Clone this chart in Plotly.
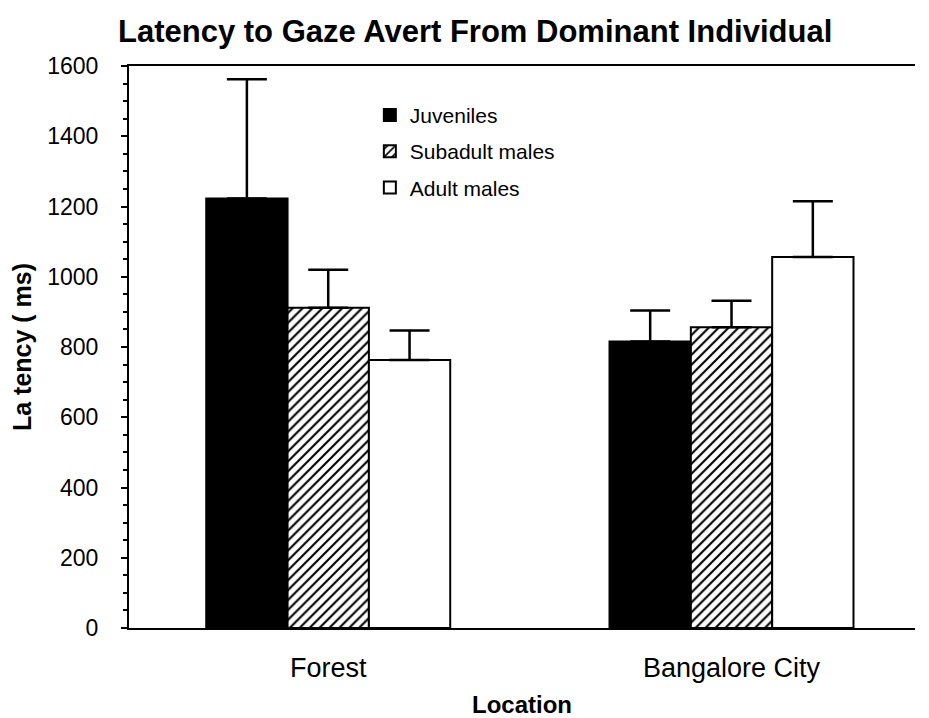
import plotly.graph_objects as go

locations = ["Forest", "Bangalore City"]
groups = ["Juveniles", "Subadult males", "Adult males"]
means = {
    "Juveniles": [1223, 816],
    "Subadult males": [912, 856],
    "Adult males": [763, 1056],
}
errors = {
    "Juveniles": [339, 88],
    "Subadult males": [108, 76],
    "Adult males": [84, 159],
}
y_ticks = [0, 200, 400, 600, 800, 1000, 1200, 1400, 1600]

styles = {
    "Juveniles": dict(color="black", pattern=dict(shape="")),
    "Subadult males": dict(color="white", pattern=dict(shape="/", fgcolor="black", bgcolor="white", size=7, solidity=0.3, fillmode="replace")),
    "Adult males": dict(color="white", pattern=dict(shape="")),
}

fig = go.Figure()
for g in groups:
    st = styles[g]
    fig.add_trace(go.Bar(
        x=locations, y=means[g], name=g, legendgroup=g,
        marker=dict(color=st["color"], line=dict(color="black", width=2), pattern=st["pattern"]),
        error_y=dict(type="data", array=errors[g], symmetric=False, arrayminus=[0, 0],
                     color="black", thickness=2.5, width=20),
    ))

font_family = "Liberation Sans, Arial, Helvetica, sans-serif"
fig.update_layout(
    width=929, height=718,
    margin=dict(l=111, r=22, t=58, b=87),
    paper_bgcolor="white", plot_bgcolor="white",
    barmode="group", bargap=0.395, bargroupgap=0,
    font=dict(family=font_family, color="black"),
    title=dict(text="<b>Latency to Gaze Avert From Dominant Individual</b>",
               x=110/929, xanchor="left", y=1-23/718, yanchor="middle",
               font=dict(size=31, color="black")),
    showlegend=True,
    legend=dict(x=(365-122)/793, y=1-(95-66)/566, xanchor="left", yanchor="top",
                font=dict(size=21, color="black"), bgcolor="rgba(0,0,0,0)",
                itemwidth=30, traceorder="grouped", tracegroupgap=6),
    xaxis=dict(type="category", range=[-0.494, 1.455], showline=True, linecolor="black",
               linewidth=2, mirror=True, ticks="", showgrid=False, zeroline=False,
               tickfont=dict(size=27), ticklabelstandoff=15,
               title=dict(text="<b>Location</b>", font=dict(size=24), standoff=14)),
    yaxis=dict(range=[0, 1600], tickvals=y_ticks, showline=True, linecolor="black",
               linewidth=2, ticks="outside", ticklen=6, tickwidth=2, tickcolor="black",
               minor=dict(dtick=50, ticks="outside", ticklen=4, tickwidth=1.5, tickcolor="black"),
               showgrid=False, zeroline=False, tickfont=dict(size=23), ticklabelstandoff=18,
               title=dict(text="<b>La tency ( ms)</b>", font=dict(size=25), standoff=10)),
)

fig.write_html("out.html")
